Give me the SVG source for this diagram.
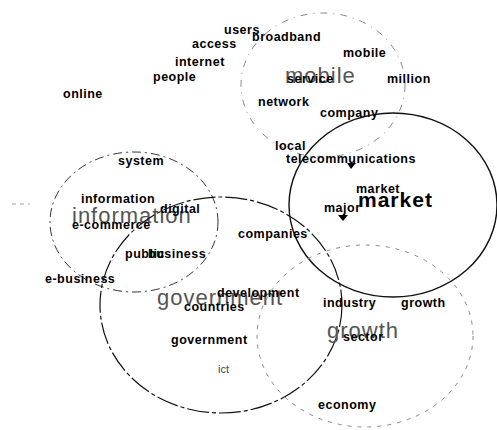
<svg xmlns="http://www.w3.org/2000/svg" width="497" height="430" viewBox="0 0 497 430">
<style>
.w{font-family:"Liberation Sans",Arial,sans-serif;font-size:12.5px;font-weight:bold;letter-spacing:0.5px;fill:#000}
.big{font-family:"Liberation Sans",Arial,sans-serif;font-size:22px;font-weight:normal;letter-spacing:1px;fill:#555}
.bigb{font-family:"Liberation Sans",Arial,sans-serif;font-size:21px;font-weight:bold;letter-spacing:1px;fill:#000}
.thin{font-family:"Liberation Sans",Arial,sans-serif;font-size:11px;fill:#444}
.c{fill:none}
</style>
<rect width="497" height="430" fill="#fff"/>
<g id="connectors">
<line x1="12" y1="204" x2="30" y2="204" stroke="#888" stroke-width="0.8" stroke-dasharray="4 4"/>
</g>
<g id="cluster-mobile">
<ellipse class="c" cx="323" cy="85" rx="82" ry="72" stroke="#888" stroke-width="1" stroke-dasharray="7 6 1 6"/>
<text class="big" x="285" y="83" fill="#666">mobile</text>
<text class="w" x="343" y="57">mobile</text>
<text class="w" x="287" y="83">service</text>
<text class="w" x="387" y="83">million</text>
<text class="w" x="258" y="106">network</text>
<text class="w" x="320" y="117">company</text>
<text class="w" x="252" y="41">broadband</text>
</g>
<g id="cluster-free">
<text class="w" x="224" y="34">users</text>
<text class="w" x="192" y="48">access</text>
<text class="w" x="175" y="66">internet</text>
<text class="w" x="153" y="81">people</text>
<text class="w" x="63" y="98">online</text>
</g>
<g id="cluster-market">
<ellipse class="c" cx="393" cy="205" rx="104" ry="92" stroke="#111" stroke-width="1.4"/>
<text class="w" x="275" y="150">local</text>
<text class="w" x="286" y="163">telecommunications</text>
<text class="w" x="356" y="193">market</text>
<text class="bigb" x="358" y="207">market</text>
<text class="w" x="324" y="212">major</text>
<path d="M347 163 L356 163 L351 169 Z" fill="#000"/>
<path d="M338 215 L348 215 L343 221 Z" fill="#000"/>
</g>
<g id="cluster-information">
<ellipse class="c" cx="134" cy="222" rx="84" ry="70" stroke="#333" stroke-width="1" stroke-dasharray="9 4 2 4"/>
<text class="w" x="118" y="165">system</text>
<text class="w" x="81" y="203">information</text>
<text class="big" x="72" y="223">information</text>
<text class="w" x="160" y="213">digital</text>
<text class="w" x="72" y="229">e-commerce</text>
<text class="w" x="125" y="258">public</text>
<text class="w" x="148" y="258">business</text>
<text class="w" x="45" y="283">e-business</text>
</g>
<g id="cluster-government">
<ellipse class="c" cx="221" cy="305" rx="121" ry="108" stroke="#111" stroke-width="1.2" stroke-dasharray="22 3 4 3"/>
<text class="w" x="238" y="238">companies</text>
<text class="big" x="157" y="305">government</text>
<text class="w" x="217" y="297">development</text>
<text class="w" x="184" y="311">countries</text>
<text class="w" x="171" y="344">government</text>
<text class="thin" x="218" y="373">ict</text>
</g>
<g id="cluster-growth">
<ellipse class="c" cx="365" cy="336" rx="108" ry="91" stroke="#888" stroke-width="1" stroke-dasharray="4 6"/>
<text class="w" x="323" y="307">industry</text>
<text class="w" x="401" y="307">growth</text>
<text class="big" x="327" y="338">growth</text>
<text class="w" x="343" y="341">sector</text>
<text class="w" x="318" y="409">economy</text>
</g>
</svg>
